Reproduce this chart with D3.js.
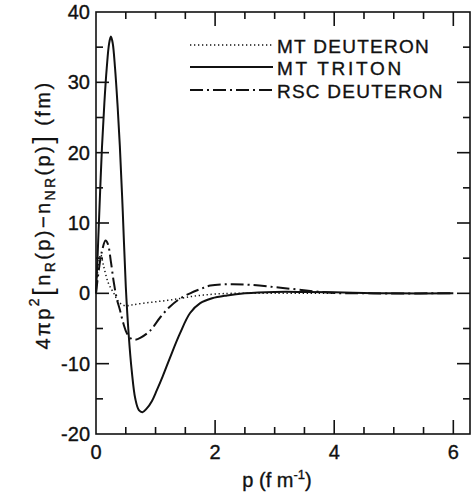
<!DOCTYPE html>
<html>
<head>
<meta charset="utf-8">
<script src="https://cdn.jsdelivr.net/npm/d3@7"></script>
<style>
  body { margin: 0; background: #fff; }
  text { font-family: "Liberation Sans", Arial, sans-serif; fill: #111; stroke: #111; stroke-width: 0.35px; }
</style>
</head>
<body>
<div id="chart"></div>
<script>
// MT triton (solid)
var pTriton = [0, 0.03, 0.06, 0.1, 0.14, 0.18, 0.22, 0.25, 0.28, 0.32, 0.36, 0.4, 0.45, 0.5, 0.55, 0.6, 0.66, 0.72, 0.78, 0.85, 0.94, 1.02, 1.12, 1.24, 1.41, 1.58, 1.75, 1.95, 2.2, 2.5, 3.0, 3.5, 4.0, 4.5, 5.0, 6.0];
var vTriton = [0, 6, 12.5, 20.7, 27, 32, 35.5, 36.5, 35.6, 32, 27, 21, 11.5, 1, -6, -11, -15, -16.6, -16.9, -16.4, -15.3, -13.8, -11.8, -9.2, -5.7, -2.8, -1.4, -0.7, -0.3, 0, 0.2, 0.2, 0.15, 0.05, 0, 0];

// MT deuteron (dotted)
var pMTD = [0, 0.04, 0.08, 0.13, 0.21, 0.3, 0.38, 0.48, 0.6, 0.8, 1.0, 1.2, 1.4, 1.6, 1.8, 2.0, 2.3, 3.0, 4.0];
var vMTD = [0, 4, 5.5, 3.8, 1.4, 0, -1.2, -1.75, -1.65, -1.4, -1.2, -1.0, -0.75, -0.45, -0.25, -0.1, 0, 0, 0];

// RSC deuteron (dash-dot)
var pRSC = [0, 0.05, 0.1, 0.16, 0.2, 0.25, 0.3, 0.35, 0.4, 0.46, 0.52, 0.6, 0.66, 0.75, 0.91, 1.08, 1.24, 1.41, 1.58, 1.75, 1.92, 2.25, 2.6, 3.1, 3.65, 4.0, 4.5, 6.0];
var vRSC = [0, 3.5, 6, 7.5, 7, 4.5, 1.5, -0.8, -2.3, -4.3, -5.7, -6.5, -6.6, -6.3, -5.3, -3.4, -1.9, -0.75, 0, 0.6, 1.1, 1.3, 1.2, 0.8, 0.3, 0.05, 0, 0];

var yTicks = [-20, -10, 0, 10, 20, 30, 40];
var xTicks = [0, 2, 4, 6];
var legendNames = ["MT DEUTERON", "MT TRITON", "RSC DEUTERON"];

var W = 471, H = 494;
var svg = d3.select("#chart").append("svg")
    .attr("width", W)
    .attr("height", H);

var x = d3.scaleLinear().domain([0, 6.28]).range([96, 470]);
var y = d3.scaleLinear().domain([-20, 40]).range([434, 12]);

function zip(ps, vs) { return ps.map(function (p, i) { return { p: p, v: vs[i] }; }); }

var line = d3.line()
    .x(function (d) { return x(d.p); })
    .y(function (d) { return y(d.v); })
    .curve(d3.curveCatmullRom.alpha(0.5));

var series = [
    { name: legendNames[0], data: zip(pMTD, vMTD), dash: "1.3,2.7", width: 1.5 },
    { name: legendNames[1], data: zip(pTriton, vTriton), dash: null, width: 2 },
    { name: legendNames[2], data: zip(pRSC, vRSC), dash: "13,4,2,4", width: 2 }
];

// frame
svg.append("rect")
    .attr("x", x(0)).attr("y", y(40))
    .attr("width", x(6.28) - x(0)).attr("height", y(-20) - y(40))
    .attr("fill", "none").attr("stroke", "#111").attr("stroke-width", 1.6);

// ticks, drawn inward on all four sides
var xMinor = d3.range(0.5, 6.01, 0.5);
var yMinor = d3.range(-15, 40, 5);
var tickG = svg.append("g").attr("stroke", "#111").attr("stroke-width", 1.6);

xMinor.forEach(function (t) {
    var len = (t % 2 === 0) ? 14 : 7;
    tickG.append("line").attr("x1", x(t)).attr("x2", x(t)).attr("y1", y(-20)).attr("y2", y(-20) - len);
    tickG.append("line").attr("x1", x(t)).attr("x2", x(t)).attr("y1", y(40)).attr("y2", y(40) + len);
});
yMinor.forEach(function (t) {
    var len = (t % 10 === 0) ? 13 : 7;
    tickG.append("line").attr("x1", x(0)).attr("x2", x(0) + len).attr("y1", y(t)).attr("y2", y(t));
    tickG.append("line").attr("x1", x(6.28)).attr("x2", x(6.28) - len).attr("y1", y(t)).attr("y2", y(t));
});

// tick labels
svg.selectAll(".ylab").data(yTicks).enter().append("text")
    .attr("x", 90).attr("y", function (d) { return y(d) + 7; })
    .attr("text-anchor", "end")
    .style("font-size", "20px")
    .text(function (d) { return d; });

svg.selectAll(".xlab").data(xTicks).enter().append("text")
    .attr("x", function (d) { return x(d); }).attr("y", 459)
    .attr("text-anchor", "middle")
    .style("font-size", "20px")
    .text(function (d) { return d; });

// curves
series.forEach(function (s) {
    svg.append("path")
        .datum(s.data)
        .attr("d", line)
        .attr("fill", "none")
        .attr("stroke", "#111")
        .attr("stroke-width", s.width)
        .attr("stroke-dasharray", s.dash);
});

// legend
var legY = [45, 67, 90];
series.forEach(function (s, i) {
    svg.append("line")
        .attr("x1", 190).attr("x2", 273)
        .attr("y1", legY[i]).attr("y2", legY[i])
        .attr("stroke", "#111").attr("stroke-width", s.width)
        .attr("stroke-dasharray", s.dash);
    svg.append("text")
        .attr("x", 277).attr("y", legY[i] + 8)
        .style("font-size", "19px")
        .attr("textLength", s.name.length * 13.8)
        .attr("lengthAdjust", "spacing")
        .text(s.name);
});

// x axis title
var xt = svg.append("text")
    .attr("x", 277).attr("y", 487)
    .attr("text-anchor", "middle")
    .style("font-size", "20px");
xt.append("tspan").text("p  (f m");
xt.append("tspan").attr("dy", -8).style("font-size", "13px").text("-1");
xt.append("tspan").attr("dy", 8).text(")");

// y axis title
var yt = svg.append("text")
    .attr("transform", "translate(50,215) rotate(-90)")
    .attr("text-anchor", "middle")
    .style("font-size", "20px")
    .style("letter-spacing", "2.4px");
yt.append("tspan").text("4\u03c0p");
yt.append("tspan").attr("dy", -11).style("font-size", "14px").text("2");
yt.append("tspan").attr("dy", 13).style("font-size", "28px").style("stroke-width", "0px").text("[");
yt.append("tspan").attr("dy", -2).text("n");
yt.append("tspan").attr("dy", 5).style("font-size", "14px").text("R");
yt.append("tspan").attr("dy", -5).text("(p)\u2212n");
yt.append("tspan").attr("dy", 5).style("font-size", "14px").text("NR");
yt.append("tspan").attr("dy", -5).text("(p)");
yt.append("tspan").attr("dy", 2).style("font-size", "28px").style("stroke-width", "0px").text("]");
yt.append("tspan").attr("dy", -2).text(" (fm)");
</script>
</body>
</html>
